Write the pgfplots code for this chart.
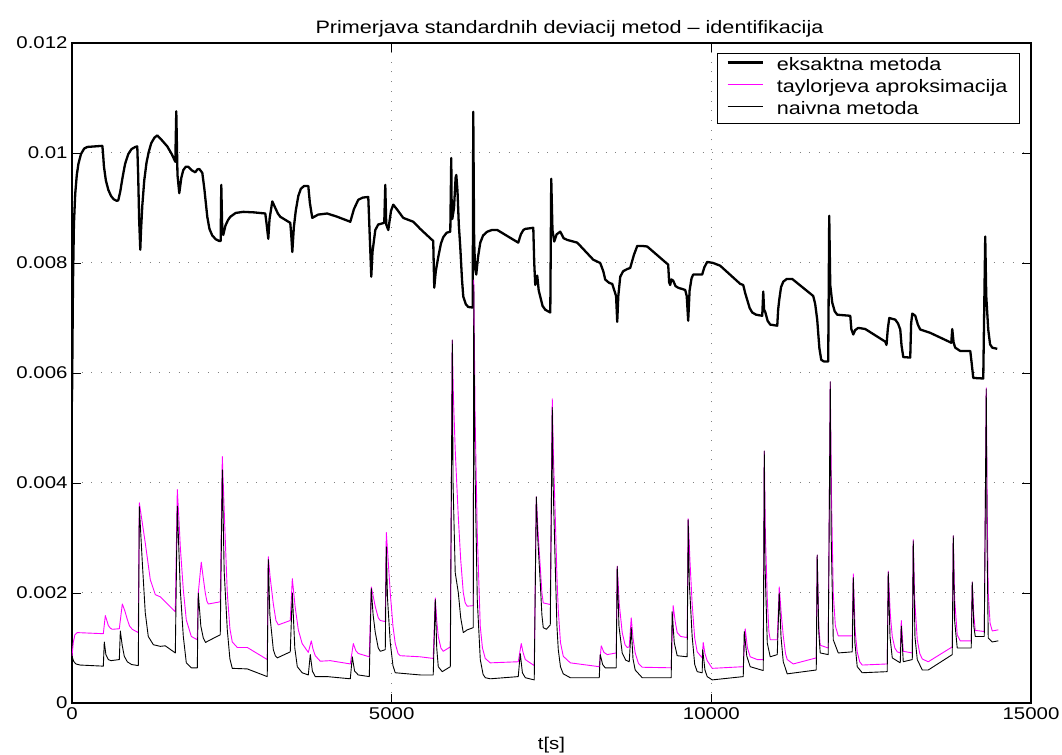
\documentclass[border=0pt]{standalone}
\usepackage{fontspec}
\setmainfont{Liberation Sans}[FakeStretch=1.2]
\usepackage{pgfplots}
\usepackage{pgfplotstable}
\pgfplotsset{compat=1.18}
\definecolor{tayl}{RGB}{255,0,255}

% eksaktna metoda: t [s], standardna deviacija
\pgfplotstableread{
t y
0 0.00548
15 0.00760
30 0.00870
50 0.00925
75 0.00960
100 0.00980
140 0.00998
190 0.01008
240 0.01011
475 0.01013
485 0.01000
500 0.00975
530 0.00950
568 0.00933
610 0.00922
650 0.00916
700 0.00913
724 0.00914
755 0.00930
790 0.00955
830 0.00980
880 0.00998
930 0.01007
990 0.01011
1021 0.01012
1035 0.00960
1050 0.00880
1068 0.00824
1080 0.00860
1100 0.00905
1130 0.00950
1165 0.00982
1200 0.01002
1240 0.01018
1290 0.01028
1334 0.01032
1400 0.01024
1490 0.01012
1560 0.00998
1616 0.00984
1631 0.01076
1650 0.00960
1678 0.00927
1710 0.00955
1741 0.00969
1780 0.00975
1819 0.00975
1880 0.00968
1928 0.00965
1960 0.00970
1991 0.00971
2038 0.00964
2070 0.00935
2116 0.00884
2150 0.00862
2194 0.00850
2250 0.00843
2304 0.00840
2325 0.00840
2335 0.00942
2350 0.00860
2366 0.00851
2400 0.00868
2440 0.00878
2476 0.00884
2560 0.00891
2679 0.00893
2850 0.00892
3023 0.00890
3045 0.00870
3070 0.00844
3090 0.00880
3133 0.00912
3180 0.00900
3220 0.00890
3258 0.00884
3414 0.00873
3430 0.00850
3446 0.00820
3470 0.00865
3500 0.00895
3540 0.00922
3580 0.00935
3630 0.00940
3696 0.00940
3720 0.00910
3758 0.00882
3850 0.00888
3993 0.00890
4150 0.00884
4353 0.00875
4410 0.00898
4478 0.00915
4550 0.00919
4634 0.00920
4660 0.00840
4681 0.00775
4700 0.00820
4744 0.00860
4790 0.00870
4884 0.00873
4900 0.00942
4915 0.00870
4947 0.00860
4990 0.00895
5025 0.00906
5080 0.00898
5181 0.00882
5338 0.00875
5447 0.00862
5650 0.00840
5666 0.00755
5690 0.00785
5729 0.00811
5770 0.00835
5807 0.00847
5860 0.00855
5917 0.00857
5932 0.00991
5940 0.00880
5948 0.00880
5975 0.00900
6000 0.00955
6011 0.00960
6030 0.00930
6050 0.00870
6073 0.00829
6100 0.00770
6120 0.00739
6160 0.00725
6198 0.00720
6268 0.00719
6276 0.01075
6290 0.00840
6305 0.00790
6323 0.00779
6350 0.00810
6386 0.00837
6430 0.00850
6495 0.00857
6570 0.00860
6652 0.00860
6980 0.00837
7020 0.00852
7060 0.00860
7090 0.00862
7215 0.00864
7230 0.00800
7246 0.00760
7262 0.00775
7277 0.00777
7300 0.00750
7324 0.00739
7360 0.00722
7403 0.00715
7481 0.00710
7496 0.00953
7515 0.00860
7543 0.00839
7580 0.00852
7637 0.00857
7690 0.00845
7746 0.00842
7903 0.00837
8153 0.00806
8262 0.00800
8310 0.00785
8340 0.00770
8400 0.00764
8450 0.00762
8510 0.00740
8528 0.00693
8545 0.00740
8575 0.00775
8620 0.00785
8684 0.00789
8731 0.00791
8790 0.00815
8841 0.00831
8920 0.00831
8997 0.00830
9325 0.00797
9340 0.00765
9356 0.00760
9375 0.00770
9403 0.00768
9440 0.00758
9482 0.00755
9591 0.00751
9615 0.00740
9638 0.00695
9660 0.00750
9690 0.00772
9716 0.00779
9857 0.00779
9890 0.00792
9935 0.00802
10030 0.00800
10139 0.00795
10452 0.00762
10499 0.00760
10530 0.00745
10561 0.00733
10600 0.00718
10640 0.00710
10700 0.00706
10796 0.00704
10812 0.00748
10825 0.00715
10843 0.00711
10880 0.00695
10921 0.00688
11031 0.00686
11045 0.00715
11062 0.00733
11090 0.00756
11125 0.00766
11180 0.00771
11265 0.00771
11594 0.00740
11625 0.00725
11656 0.00697
11690 0.00645
11719 0.00624
11760 0.00621
11828 0.00621
11844 0.00886
11860 0.00760
11891 0.00728
11930 0.00712
11969 0.00706
12173 0.00704
12190 0.00680
12220 0.00670
12250 0.00678
12298 0.00682
12407 0.00680
12720 0.00657
12740 0.00651
12760 0.00680
12783 0.00700
12877 0.00697
12920 0.00690
12955 0.00679
12975 0.00650
13002 0.00629
13111 0.00628
13125 0.00690
13143 0.00708
13190 0.00704
13230 0.00688
13268 0.00679
13424 0.00673
13753 0.00655
13768 0.00680
13790 0.00655
13815 0.00646
13894 0.00640
14050 0.00640
14070 0.00620
14097 0.00591
14253 0.00590
14284 0.00848
14300 0.00740
14331 0.00679
14360 0.00652
14394 0.00646
14472 0.00644
}\eksaktna

% taylorjeva aproksimacija
\pgfplotstableread{
t y
0 0.00085
20 0.00110
45 0.00124
83 0.00128
490 0.00126
521 0.00159
545 0.00150
568 0.00141
600 0.00136
630 0.00134
740 0.00135
787 0.00180
825 0.00168
865 0.00152
900 0.00140
943 0.00134
1037 0.00128
1053 0.00364
1090 0.00335
1146 0.00291
1225 0.00224
1303 0.00197
1381 0.00193
1616 0.00166
1647 0.00388
1670 0.00340
1694 0.00284
1741 0.00206
1788 0.00151
1866 0.00121
1960 0.00115
1975 0.00200
2022 0.00256
2050 0.00230
2085 0.00200
2110 0.00185
2132 0.00180
2319 0.00184
2351 0.00448
2390 0.00320
2429 0.00200
2470 0.00135
2507 0.00111
2585 0.00101
2741 0.00101
3054 0.00079
3070 0.00266
3100 0.00228
3149 0.00180
3190 0.00150
3227 0.00142
3414 0.00150
3446 0.00226
3490 0.00175
3540 0.00133
3600 0.00108
3696 0.00092
3743 0.00113
3770 0.00098
3805 0.00086
3883 0.00076
4040 0.00077
4353 0.00071
4400 0.00108
4440 0.00095
4478 0.00090
4650 0.00084
4681 0.00211
4715 0.00192
4744 0.00175
4790 0.00155
4822 0.00150
4900 0.00148
4916 0.00310
4945 0.00260
4978 0.00200
5020 0.00140
5056 0.00108
5100 0.00090
5135 0.00086
5447 0.00084
5650 0.00081
5682 0.00191
5705 0.00150
5729 0.00121
5770 0.00100
5807 0.00094
5917 0.00102
5948 0.00660
5965 0.00560
5994 0.00460
6042 0.00339
6080 0.00260
6120 0.00201
6150 0.00182
6182 0.00176
6276 0.00177
6284 0.00769
6305 0.00520
6339 0.00309
6386 0.00139
6420 0.00100
6464 0.00081
6542 0.00073
6980 0.00075
7027 0.00108
7055 0.00092
7090 0.00079
7230 0.00068
7262 0.00375
7290 0.00310
7324 0.00248
7350 0.00200
7371 0.00182
7481 0.00179
7512 0.00553
7530 0.00450
7559 0.00339
7585 0.00230
7606 0.00169
7640 0.00110
7684 0.00085
7794 0.00073
8247 0.00066
8278 0.00104
8320 0.00092
8372 0.00088
8512 0.00091
8528 0.00249
8560 0.00180
8606 0.00128
8650 0.00106
8684 0.00101
8716 0.00102
8747 0.00155
8775 0.00118
8809 0.00091
8860 0.00072
8919 0.00065
9372 0.00064
9403 0.00177
9435 0.00148
9466 0.00128
9520 0.00121
9622 0.00119
9638 0.00335
9665 0.00260
9700 0.00180
9740 0.00118
9779 0.00093
9857 0.00082
9873 0.00110
9900 0.00090
9935 0.00077
10014 0.00063
10499 0.00066
10530 0.00135
10565 0.00100
10608 0.00084
10718 0.00079
10812 0.00079
10828 0.00458
10845 0.00310
10875 0.00190
10900 0.00130
10921 0.00115
11031 0.00115
11062 0.00211
11095 0.00160
11125 0.00122
11160 0.00090
11187 0.00079
11281 0.00071
11641 0.00082
11656 0.00269
11680 0.00140
11703 0.00105
11828 0.00100
11860 0.00584
11880 0.00370
11907 0.00200
11940 0.00140
11985 0.00122
12204 0.00122
12220 0.00235
12250 0.00130
12282 0.00093
12320 0.00075
12360 0.00069
12751 0.00071
12767 0.00240
12800 0.00160
12830 0.00121
12870 0.00100
12908 0.00093
12955 0.00091
12971 0.00150
13002 0.00094
13143 0.00091
13158 0.00297
13180 0.00190
13221 0.00115
13260 0.00090
13299 0.00080
13393 0.00075
13768 0.00102
13784 0.00304
13805 0.00190
13846 0.00124
13893 0.00113
14065 0.00113
14081 0.00220
14105 0.00160
14128 0.00132
14269 0.00130
14300 0.00573
14315 0.00350
14331 0.00200
14360 0.00145
14394 0.00131
14488 0.00133
}\taylor

% naivna metoda
\pgfplotstableread{
t y
0 0.00085
25 0.00076
60 0.00071
130 0.00069
490 0.00067
505 0.00111
530 0.00088
568 0.00079
610 0.00077
740 0.00079
756 0.00131
785 0.00105
818 0.00085
865 0.00075
930 0.00070
1037 0.00068
1053 0.00357
1100 0.00255
1146 0.00164
1193 0.00121
1272 0.00106
1381 0.00103
1459 0.00104
1616 0.00091
1647 0.00358
1694 0.00206
1741 0.00121
1788 0.00073
1866 0.00064
1960 0.00064
1975 0.00200
2015 0.00140
2054 0.00118
2090 0.00110
2116 0.00112
2319 0.00124
2351 0.00424
2380 0.00240
2429 0.00133
2470 0.00080
2507 0.00063
2741 0.00062
3054 0.00048
3070 0.00261
3095 0.00160
3149 0.00097
3180 0.00086
3211 0.00082
3414 0.00093
3446 0.00200
3485 0.00100
3524 0.00066
3600 0.00055
3696 0.00051
3727 0.00088
3760 0.00058
3805 0.00048
3993 0.00048
4353 0.00044
4384 0.00084
4420 0.00058
4478 0.00051
4650 0.00048
4681 0.00208
4710 0.00160
4744 0.00128
4790 0.00100
4822 0.00094
4900 0.00097
4916 0.00284
4935 0.00190
4978 0.00110
5020 0.00068
5056 0.00055
5447 0.00051
5650 0.00051
5682 0.00188
5705 0.00100
5729 0.00066
5791 0.00057
5917 0.00066
5948 0.00660
5960 0.00400
5994 0.00237
6042 0.00201
6080 0.00155
6120 0.00128
6182 0.00133
6276 0.00137
6284 0.00760
6300 0.00450
6339 0.00188
6386 0.00079
6430 0.00052
6464 0.00046
6542 0.00044
6980 0.00048
7011 0.00090
7045 0.00055
7090 0.00046
7230 0.00042
7262 0.00375
7285 0.00300
7324 0.00219
7350 0.00160
7371 0.00137
7420 0.00134
7481 0.00142
7512 0.00537
7525 0.00400
7559 0.00248
7585 0.00140
7606 0.00097
7640 0.00066
7684 0.00053
7794 0.00046
8247 0.00046
8262 0.00088
8300 0.00070
8340 0.00064
8512 0.00064
8528 0.00248
8555 0.00140
8606 0.00091
8660 0.00078
8716 0.00075
8747 0.00137
8775 0.00080
8809 0.00060
8919 0.00046
9372 0.00046
9387 0.00166
9420 0.00110
9466 0.00086
9622 0.00084
9638 0.00333
9655 0.00220
9700 0.00121
9740 0.00070
9779 0.00057
9857 0.00055
9865 0.00097
9900 0.00060
9935 0.00048
10014 0.00042
10499 0.00048
10515 0.00130
10555 0.00085
10608 0.00066
10812 0.00059
10828 0.00458
10840 0.00250
10875 0.00109
10921 0.00084
11031 0.00088
11062 0.00200
11090 0.00120
11125 0.00075
11187 0.00053
11641 0.00060
11656 0.00269
11680 0.00130
11703 0.00091
11828 0.00088
11860 0.00584
11875 0.00300
11907 0.00115
11985 0.00091
12204 0.00093
12220 0.00228
12245 0.00110
12282 0.00066
12360 0.00055
12751 0.00057
12767 0.00238
12795 0.00120
12830 0.00082
12955 0.00073
12971 0.00140
13002 0.00075
13143 0.00079
13158 0.00295
13185 0.00120
13221 0.00079
13299 0.00060
13393 0.00060
13768 0.00088
13784 0.00304
13805 0.00150
13846 0.00100
14065 0.00100
14081 0.00220
14105 0.00140
14128 0.00121
14269 0.00121
14300 0.00571
14312 0.00300
14331 0.00118
14394 0.00111
14488 0.00113
}\naivna

\begin{document}
\begin{tikzpicture}[font=\fontsize{17bp}{20bp}\selectfont]
\begin{axis}[
  scale only axis,
  width=959bp, height=660bp,
  xmin=0, xmax=15000,
  ymin=0, ymax=0.012,
  xtick={0,5000,10000,15000},
  xticklabels={0,5000,10000,15000},
  ytick={0,0.002,0.004,0.006,0.008,0.01,0.012},
  yticklabels={0,0.002,0.004,0.006,0.008,0.01,0.012},
  scaled x ticks=false, scaled y ticks=false,
  tick align=inside,
  major tick length=9bp,
  every tick/.style={black, line width=0.6bp},
  axis line style={line width=1.2bp},
  grid=major,
  major grid style={gray, line width=1bp, dash pattern=on 1bp off 8.7bp},
  title={Primerjava standardnih deviacij metod – identifikacija},
  title style={font=\fontsize{18bp}{21bp}\selectfont, yshift=-4bp, xshift=18bp},
  xlabel={t[s]},
  xlabel style={yshift=-11bp},
  xticklabel style={yshift=-1bp},
  yticklabel style={xshift=-1bp},
  legend style={
    at={(0.9885,0.985)}, anchor=north east,
    draw=black, line width=1.2bp,
    inner xsep=9bp, inner ysep=2bp,
    row sep=0bp, column sep=10bp,
    nodes={inner sep=3bp, text height=12bp, text depth=4bp,
           font=\fontsize{18bp}{21bp}\selectfont},
    legend cell align=left,
  },
  legend image code/.code={\draw[#1] (0bp,4bp) -- (35bp,4bp);},
]
\addplot[black, line width=2.3bp, line join=round] table[x=t,y=y] {\eksaktna};
\addlegendentry{eksaktna metoda}
\addplot[tayl, line width=0.9bp, line join=round] table[x=t,y=y] {\taylor};
\addlegendentry{taylorjeva aproksimacija}
\addplot[black, line width=0.9bp, line join=round] table[x=t,y=y] {\naivna};
\addlegendentry{naivna metoda}
\end{axis}
\pgfresetboundingbox
\path ([shift={(-72bp,-52bp)}]current axis.south west)
  rectangle ([shift={(31bp,43bp)}]current axis.north east);
\end{tikzpicture}
\end{document}
